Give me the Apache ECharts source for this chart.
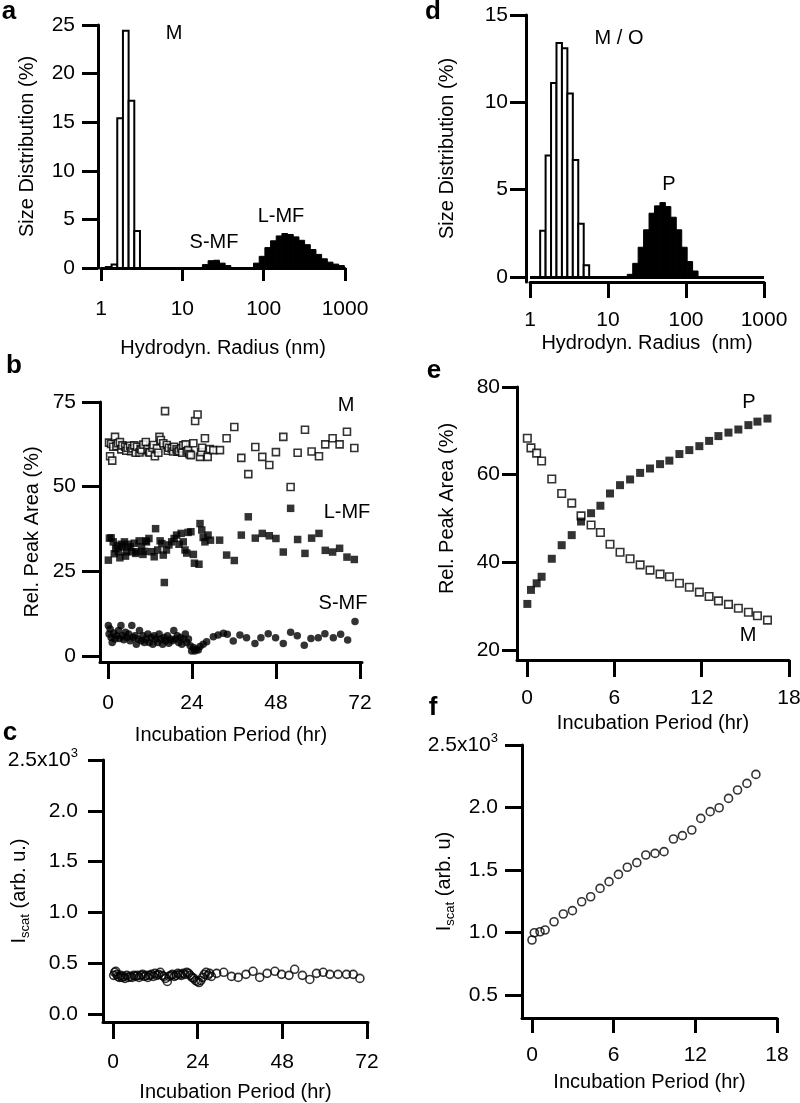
<!DOCTYPE html>
<html><head><meta charset="utf-8">
<script src="https://cdn.jsdelivr.net/npm/echarts@6/dist/echarts.min.js"></script>
<style>html,body{margin:0;padding:0;background:#fff}#c{width:800px;height:1103px}</style>
</head><body><div id="c"></div>
<script>
// ---------------- DATA ----------------
// DLS histogram bin edges (nm), shared by panels a and d
const binEdgesNm = [1.149, 1.350, 1.585, 1.861, 2.186, 2.567, 3.014, 3.540, 4.157, 4.883, 5.734, 6.733, 7.907, 9.285, 10.90, 12.80, 15.04, 17.66, 20.74, 24.35, 28.60, 33.59, 39.45, 46.33, 54.41, 63.90, 75.04, 88.13, 103.5, 121.5, 142.7, 167.6, 196.8, 231.1, 271.4, 318.7, 374.3, 439.5, 516.1, 606.1, 711.7, 835.8, 981.8, 1153];
// panel a (size distribution %)
const aMonoStart = 0;
const aMono = [0.1, 0.35, 15.4, 24.4, 17.2, 3.8];
const aSmfStart = 17;
const aSmf = [0.35, 0.75, 0.8, 0.5, 0.25];
const aLmfStart = 26;
const aLmf = [0.5, 1.2, 2.1, 2.8, 3.3, 3.55, 3.45, 3.2, 2.85, 2.4, 1.9, 1.4, 0.95, 0.6, 0.4, 0.25];
// panel d
const dMonoStart = 1;
const dMono = [2.65, 6.95, 11.1, 13.4, 13.1, 10.5, 6.7, 3.05, 0.67];
const dProtoStart = 17;
const dProto = [0.15, 0.78, 1.7, 2.7, 3.65, 4.07, 4.26, 4.03, 3.42, 2.7, 1.7, 0.88, 0.34];

// panel b: [hr, %]
const bM = [[0.3,63.0],[0.6,59.0],[0.9,62.6],[1.2,57.7],[1.5,61.8],[2.0,64.7],[2.4,62.0],[2.8,62.8],[3.4,63.2],[3.8,61.0],[4.1,62.2],[4.9,61.8],[5.2,60.6],[5.6,61.5],[6.3,62.1],[6.6,60.5],[7.0,61.3],[7.5,62.2],[7.9,60.0],[8.3,61.8],[9.0,60.1],[9.3,61.2],[9.6,60.8],[10.1,62.4],[10.8,63.2],[11.3,61.1],[11.7,60.2],[12.0,60.1],[12.7,61.5],[13.0,62.3],[13.4,59.0],[14.0,61.3],[14.4,60.0],[14.7,64.7],[15.1,63.8],[15.8,62.8],[16.3,72.3],[16.8,62.3],[17.1,60.6],[17.4,61.5],[18.2,61.3],[18.6,60.4],[18.9,61.8],[19.6,61.0],[19.9,60.3],[20.3,60.5],[20.9,61.3],[21.2,60.0],[21.5,62.2],[22.2,62.5],[22.5,60.4],[22.9,60.8],[23.3,59.6],[23.7,59.3],[24.4,62.8],[24.9,69.4],[25.6,71.3],[26.3,58.8],[26.6,60.2],[26.9,61.5],[27.7,64.3],[28.5,58.8],[29.1,61.1],[30.1,60.8],[32.0,60.8],[33.9,64.3],[36.1,67.6],[38.1,58.5],[40.1,53.7],[42.1,61.7],[44.1,58.8],[46.1,56.4],[48.0,60.2],[50.1,64.7],[52.2,49.9],[54.2,60.0],[56.3,66.8],[58.2,60.4],[60.3,59.0],[62.1,62.5],[64.2,64.3],[66.2,62.5],[68.3,66.2],[70.4,61.4]];
const bLMF = [[0.1,28.3],[0.4,34.8],[0.9,34.9],[1.5,33.7],[1.8,30.2],[2.2,31.7],[2.6,32.6],[3.0,30.8],[3.4,29.0],[3.8,33.0],[4.1,32.2],[4.7,33.7],[5.0,29.5],[5.3,30.8],[5.8,33.0],[6.3,32.2],[6.8,30.8],[7.5,33.3],[7.9,30.3],[8.2,30.8],[8.9,34.0],[9.6,32.2],[10.0,30.0],[10.4,30.9],[10.8,34.0],[11.0,33.7],[11.7,34.7],[12.5,30.8],[13.2,29.3],[13.6,37.6],[14.2,31.3],[14.9,34.0],[15.4,33.2],[15.8,29.8],[16.1,21.7],[16.7,31.3],[17.4,32.8],[18.2,33.7],[18.9,34.7],[19.6,35.7],[20.3,33.0],[20.9,36.2],[21.5,33.7],[22.0,31.3],[22.5,30.4],[22.9,36.5],[23.7,36.7],[24.4,30.0],[24.7,27.4],[26.0,27.1],[26.3,39.1],[26.8,37.2],[27.2,35.0],[27.7,33.7],[28.6,35.7],[29.3,34.2],[31.9,34.2],[33.9,29.8],[36.1,28.2],[38.1,35.7],[40.1,41.1],[42.1,34.8],[44.1,36.2],[46.1,35.5],[48.0,34.7],[50.1,30.7],[52.2,43.6],[54.2,34.4],[56.3,30.3],[58.2,34.8],[60.3,36.2],[62.1,31.2],[64.2,30.7],[66.2,31.8],[68.3,29.2],[70.4,28.5]];
const bSMF = [[0.1,9.0],[0.3,6.5],[0.6,8.0],[0.9,5.5],[1.2,4.0],[1.6,6.8],[2.0,5.0],[2.5,6.0],[3.0,7.5],[3.3,5.2],[3.7,9.0],[4.1,6.0],[4.5,4.8],[5.0,7.0],[5.4,5.5],[5.9,6.5],[6.3,4.5],[6.8,9.0],[7.2,5.5],[7.7,6.0],[8.1,3.5],[8.6,5.0],[9.0,7.5],[9.5,4.5],[10.0,6.0],[10.4,4.0],[10.9,5.0],[11.4,6.5],[11.8,4.0],[12.3,5.5],[12.8,3.5],[13.2,6.0],[13.7,5.0],[14.2,4.0],[14.6,6.5],[15.1,5.0],[15.6,3.5],[16.0,5.5],[16.5,4.5],[17.0,6.0],[17.4,3.8],[17.9,5.0],[18.4,4.5],[18.8,7.5],[19.3,5.0],[19.8,6.0],[20.2,4.0],[20.7,5.5],[21.1,3.5],[21.6,5.0],[22.1,6.5],[22.5,4.0],[23.0,5.0],[23.5,3.0],[23.9,1.5],[24.4,2.5],[24.8,1.5],[25.3,2.0],[25.8,1.8],[26.3,2.8],[27.2,3.5],[28.2,4.2],[30.1,5.7],[31.5,6.2],[33.0,6.7],[34.1,6.4],[35.8,4.4],[37.7,6.2],[39.6,5.4],[42.0,3.7],[43.7,5.4],[45.8,6.6],[47.9,5.4],[50.1,3.7],[52.2,7.0],[54.1,6.0],[56.1,3.2],[58.0,5.2],[60.1,5.4],[62.0,6.6],[64.4,5.4],[66.5,6.4],[68.5,4.7],[70.6,10.2]];

// panel c: [hr, scattered intensity]
const cIscat = [[0.2,380],[0.5,410],[0.8,420],[1.1,390],[1.4,370],[1.8,360],[2.2,380],[2.6,360],[3.0,370],[3.4,350],[3.9,380],[4.4,360],[4.9,370],[5.4,360],[5.9,380],[6.4,370],[6.9,380],[7.4,360],[7.9,380],[8.4,390],[8.9,370],[9.4,380],[9.9,360],[10.4,380],[10.9,390],[11.4,370],[11.9,400],[12.4,380],[12.9,390],[13.4,410],[13.9,380],[14.4,370],[14.9,350],[15.4,320],[15.9,370],[16.4,380],[16.9,390],[17.4,370],[17.9,380],[18.4,400],[18.9,390],[19.4,380],[19.9,400],[20.4,390],[20.9,410],[21.4,400],[21.9,380],[22.4,360],[22.9,350],[23.4,330],[23.9,320],[24.4,310],[24.9,330],[25.4,360],[25.9,390],[26.4,410],[26.9,380],[27.4,400],[27.9,370],[29.4,400],[31.4,410],[33.6,370],[35.5,360],[37.7,390],[39.7,420],[41.6,360],[43.7,400],[45.9,420],[47.8,390],[49.9,380],[51.5,440],[53.7,380],[55.8,340],[57.7,400],[59.6,410],[61.5,390],[63.8,390],[66.2,390],[68.1,390],[70.0,350]];

// panel e
const eTime = [0.02,0.27,0.66,1.0,1.7,2.38,3.07,3.71,4.4,5.04,5.7,6.39,7.08,7.77,8.45,9.14,9.78,10.47,11.15,11.84,12.51,13.15,13.84,14.52,15.21,15.83,16.52];
const eP = [30.5,33.7,35.2,36.7,40.8,43.9,46.2,49.3,51.2,52.9,55.7,57.6,58.9,60.4,61.4,62.4,63.2,64.7,65.6,66.5,67.7,68.8,69.6,70.3,71.3,72.1,72.8];
const eM = [68.3,66.1,64.9,63.1,59.0,55.7,53.5,50.6,48.5,46.8,44.1,42.3,40.8,39.4,38.2,37.3,36.7,35.2,34.3,33.2,32.2,31.2,30.4,29.5,28.6,27.8,26.8];

// panel f
const fTime = [0,0.17,0.59,0.96,1.62,2.3,2.97,3.65,4.31,5.0,5.66,6.35,7.0,7.7,8.36,9.04,9.7,10.39,11.05,11.74,12.4,13.09,13.75,14.44,15.1,15.79,16.45];
const fI = [940,998,1006,1020,1086,1148,1175,1246,1286,1353,1407,1465,1522,1559,1620,1633,1647,1748,1775,1820,1913,1967,1998,2073,2140,2193,2265];

// tick values
const ticksD_y = [0, 5, 10, 15];
const ticks72 = [0, 24, 48, 72];
const ticksB_y = [0, 25, 50, 75];
const ticks18 = [0, 6, 12, 18];
const ticksE_y = [20, 40, 60, 80];
const ticksC_y = [0, 500, 1000, 1500, 2000, 2500];
const ticksF_y = [500, 1000, 1500, 2000, 2500];

// ---------------- CHART ----------------
const FONT = '"Liberation Sans", Arial, Helvetica, sans-serif';
const chart = echarts.init(document.getElementById('c'), null, {renderer: 'canvas'});

function mkAxis(o) {
  const ax = {
    type: o.type || 'value', gridIndex: o.grid, min: o.min, max: o.max,
    name: o.name || '', nameLocation: 'middle', nameGap: o.nameGap || 0,
    nameMoveOverlap: false,
    nameTextStyle: Object.assign({color: '#000', fontSize: 20, fontFamily: FONT}, o.nameStyle || {}),
    axisLine: {show: true, onZero: false, lineStyle: {color: '#000', width: 3}},
    axisTick: {show: true, inside: false, length: o.tick || 16, lineStyle: {color: '#000', width: 3}},
    axisLabel: {color: '#000', fontSize: 21, fontFamily: FONT, margin: o.margin, showMinLabel: true, showMaxLabel: true, hideOverlap: false},
    splitLine: {show: false},
    offset: o.offset || 0
  };
  if (o.fmt) ax.axisLabel.formatter = o.fmt;
  if (o.rich) ax.axisLabel.rich = o.rich;
  if (o.ticks) { ax.axisTick.customValues = o.ticks; ax.axisLabel.customValues = o.ticks; }
  if (o.interval) ax.interval = o.interval;
  if (o.type === 'log') ax.logBase = 10;
  return ax;
}

function histSeries(xi, start, heights, filled) {
  const data = heights.map((h, i) => [binEdgesNm[start + i], binEdgesNm[start + i + 1], h]);
  return {
    type: 'custom', xAxisIndex: xi, yAxisIndex: xi, data: data, encode: {x: [0, 1], y: 2},
    z: filled ? 3 : 2,
    renderItem: function (params, api) {
      const p0 = api.coord([api.value(0), api.value(2)]);
      const p1 = api.coord([api.value(1), 0]);
      return {
        type: 'rect',
        shape: {x: p0[0], y: p0[1], width: p1[0] - p0[0], height: p1[1] - p0[1]},
        style: {fill: filled ? '#000' : '#fff', stroke: '#000', lineWidth: filled ? 1 : 2}
      };
    }
  };
}

const fmtInt = v => String(Math.round(v));
const fmtI = v => (Math.abs(v - 2500) < 1e-6 ? '{m|2.5x10}{p|3}' : (v / 1000).toFixed(1));
const richI = {m: {fontSize: 21, fontFamily: FONT, color: '#000', lineHeight: 26}, p: {fontSize: 13, fontFamily: FONT, color: '#000', verticalAlign: 'top', lineHeight: 14}};
const iscatName = '{i|I}{s|scat}{n| (arb. u.)}';
const iscatNameF = '{i|I}{s|scat}{n| (arb. u)}';
const richName = {i: {fontSize: 20, fontFamily: FONT, color: '#000', lineHeight: 26}, s: {fontSize: 13, fontFamily: FONT, color: '#000', verticalAlign: 'bottom', lineHeight: 14}, n: {fontSize: 20, fontFamily: FONT, color: '#000', lineHeight: 26}};

const grids = [
  {left: 101, top: 25, width: 244, height: 243},   // a
  {left: 530, top: 15, width: 234, height: 267},   // d
  {left: 100, top: 402, width: 262, height: 260},  // b
  {left: 517, top: 387, width: 272, height: 273},  // e
  {left: 103, top: 760, width: 265, height: 262},  // c
  {left: 522, top: 745, width: 255, height: 273}   // f
].map(g => Object.assign(g, {containLabel: false, outerBoundsMode: 'none'}));

const xAxes = [
  mkAxis({grid: 0, type: 'log', min: 1, max: 1000, tick: 13, margin: 31, fmt: fmtInt, name: 'Hydrodyn. Radius (nm)', nameGap: 70}),
  mkAxis({grid: 1, type: 'log', min: 1, max: 1000, tick: 16, margin: 28, fmt: fmtInt, name: 'Hydrodyn. Radius  (nm)', nameGap: 51}),
  mkAxis({grid: 2, min: -2.29, max: 72.6, ticks: ticks72, tick: 17, margin: 31, fmt: fmtInt, name: 'Incubation Period (hr)', nameGap: 63}),
  mkAxis({grid: 3, min: -0.69, max: 18, ticks: ticks18, tick: 17, margin: 28, fmt: fmtInt, name: 'Incubation Period (hr)', nameGap: 53}),
  mkAxis({grid: 4, min: -2.83, max: 72.3, ticks: ticks72, tick: 17, margin: 30, fmt: fmtInt, name: 'Incubation Period (hr)', nameGap: 60}),
  mkAxis({grid: 5, min: -0.735, max: 18, ticks: ticks18, tick: 15, margin: 27, fmt: fmtInt, name: 'Incubation Period (hr)', nameGap: 54})
];
const yAxes = [
  mkAxis({grid: 0, min: 0, max: 25, interval: 5, offset: 3, tick: 16, margin: 23, fmt: fmtInt, name: 'Size Distribution (%)', nameGap: 61}),
  mkAxis({grid: 1, min: -0.29, max: 15, ticks: ticksD_y, offset: 4, tick: 16, margin: 18, fmt: fmtInt, name: 'Size Distribution (%)', nameGap: 69}),
  mkAxis({grid: 2, min: -1.77, max: 75, ticks: ticksB_y, tick: 18, margin: 24, fmt: fmtInt, name: 'Rel. Peak Area (%)', nameGap: 58}),
  mkAxis({grid: 3, min: 17.7, max: 80, ticks: ticksE_y, tick: 15, margin: 17, fmt: fmtInt, name: 'Rel. Peak Area (%)', nameGap: 60, nameStyle: {padding: [0, 0, 0, 30]}}),
  mkAxis({grid: 4, min: -79, max: 2500, ticks: ticksC_y, tick: 15, margin: 25, fmt: fmtI, rich: richI, name: iscatName, nameGap: 71, nameStyle: {rich: richName}}),
  mkAxis({grid: 5, min: 316, max: 2500, ticks: ticksF_y, tick: 17, margin: 24, fmt: fmtI, rich: richI, name: iscatNameF, nameGap: 65, nameStyle: {rich: richName}})
];

const openSq = {color: '#fff', borderColor: '#000', borderWidth: 1.6};
const filled = {color: '#000', borderColor: '#000', borderWidth: 0};
const openCirc = {color: 'rgba(255,255,255,0)', borderColor: '#000', borderWidth: 1.6};

const baseline = {silent: true, symbol: 'none', label: {show: false}, lineStyle: {color: '#000', width: 3, type: 'solid'}, data: [{yAxis: 0}]};

const series = [
  histSeries(0, aMonoStart, aMono, false),
  histSeries(0, aSmfStart, aSmf, true),
  histSeries(0, aLmfStart, aLmf, true),
  Object.assign(histSeries(1, dMonoStart, dMono, false), {markLine: baseline}),
  histSeries(1, dProtoStart, dProto, true),
  {type: 'scatter', xAxisIndex: 2, yAxisIndex: 2, data: bM, symbol: 'rect', symbolSize: 7, itemStyle: openSq},
  {type: 'scatter', xAxisIndex: 2, yAxisIndex: 2, data: bLMF, symbol: 'rect', symbolSize: 7.5, itemStyle: filled},
  {type: 'scatter', xAxisIndex: 2, yAxisIndex: 2, data: bSMF, symbol: 'circle', symbolSize: 7.5, itemStyle: filled},
  {type: 'scatter', xAxisIndex: 3, yAxisIndex: 3, data: eTime.map((t, i) => [t, eM[i]]), symbol: 'rect', symbolSize: 7.5, itemStyle: openSq},
  {type: 'scatter', xAxisIndex: 3, yAxisIndex: 3, data: eTime.map((t, i) => [t, eP[i]]), symbol: 'rect', symbolSize: 8, itemStyle: filled},
  {type: 'scatter', xAxisIndex: 4, yAxisIndex: 4, data: cIscat, symbol: 'circle', symbolSize: 8, itemStyle: openCirc},
  {type: 'scatter', xAxisIndex: 5, yAxisIndex: 5, data: fTime.map((t, i) => [t, fI[i]]), symbol: 'circle', symbolSize: 8, itemStyle: openCirc}
];

function txt(x, y, s, size, bold) {
  return {type: 'text', x: x, y: y, z: 100, silent: true,
    style: {text: s, fill: '#000', font: (bold ? 'bold ' : '') + size + 'px ' + FONT, align: 'center', verticalAlign: 'middle', textAlign: 'center', textVerticalAlign: 'middle'}};
}
const graphic = [
  txt(9, 12, 'a', 26, true), txt(433, 12, 'd', 26, true), txt(14, 366, 'b', 26, true),
  txt(434, 371, 'e', 26, true), txt(10, 733, 'c', 26, true), txt(433, 708, 'f', 26, true),
  txt(174, 33, 'M', 20), txt(214, 242, 'S-MF', 20), txt(281, 216, 'L-MF', 20),
  txt(619, 38, 'M / O', 20), txt(669, 184, 'P', 20),
  txt(346, 405, 'M', 20), txt(347, 512, 'L-MF', 20), txt(343, 603, 'S-MF', 20),
  txt(749, 402, 'P', 20), txt(748, 635, 'M', 20)
];

chart.setOption({
  animation: false, backgroundColor: '#fff',
  textStyle: {fontFamily: FONT},
  grid: grids, xAxis: xAxes, yAxis: yAxes, series: series, graphic: graphic
});
</script></body></html>
